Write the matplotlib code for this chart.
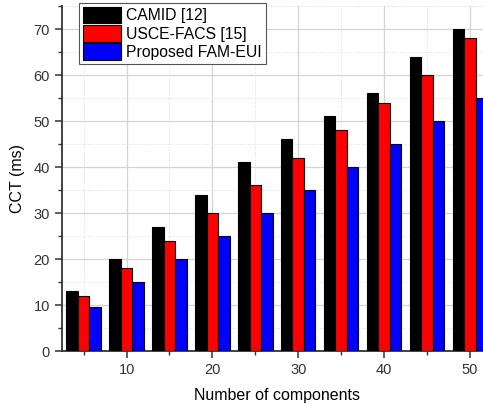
import matplotlib
matplotlib.use("Agg")
import matplotlib.pyplot as plt
from matplotlib.ticker import MultipleLocator
import numpy as np

plt.rcParams['font.family'] = ['Liberation Sans', 'DejaVu Sans']

components = [5, 10, 15, 20, 25, 30, 35, 40, 45, 50]
camid = [13, 20, 27, 34, 41, 46, 51, 56, 64, 70]
usce_facs = [12, 18, 24, 30, 36, 42, 48, 54, 60, 68]
fam_eui = [9.5, 15, 20, 25, 30, 35, 40, 45, 50, 55]

names = ['CAMID [12]', 'USCE-FACS [15]', 'Proposed FAM-EUI']
colors = ['#000000', '#ff0000', '#0000ff']

fig = plt.figure(figsize=(4.83, 4.04), dpi=100)
ax = fig.add_axes([0.128, 0.131, 0.889, 0.854])

x = np.array(components, dtype=float)
w = 1.34
for i, (vals, name, c) in enumerate(zip([camid, usce_facs, fam_eui], names, colors)):
    ax.bar(x + (i - 1) * w, vals, width=w, color=c, edgecolor='black',
           linewidth=0.8, label=name, zorder=3)

ax.set_xlim(2.45, 52.5)
ax.set_ylim(0, 75)
ax.xaxis.set_major_locator(MultipleLocator(10))
ax.xaxis.set_minor_locator(MultipleLocator(5))
ax.yaxis.set_major_locator(MultipleLocator(10))
ax.yaxis.set_minor_locator(MultipleLocator(5))

ax.grid(which='major', color='#d4d4d4', linewidth=0.9, zorder=0)
ax.grid(which='minor', color='#dcdcdc', linewidth=0.7, linestyle=':', zorder=0)
ax.set_axisbelow(True)

for s in ['top', 'right']:
    ax.spines[s].set_visible(False)
ax.spines['left'].set_linewidth(1.3)
ax.spines['bottom'].set_linewidth(1.3)
ax.spines['left'].set_color('#333333')
ax.spines['bottom'].set_color('#333333')

ax.tick_params(which='major', direction='out', length=5, width=1.1, labelsize=10.5, colors='#333333')
ax.tick_params(which='minor', direction='out', length=3, width=1.0, colors='#333333')

ax.set_xlabel('Number of components', fontsize=11.5, labelpad=8)
ax.set_ylabel('CCT (ms)', fontsize=11.5, labelpad=6)

leg = ax.legend(loc='upper left', bbox_to_anchor=(0.04, 1.01), fontsize=11.3,
                fancybox=False, edgecolor='#555555', framealpha=1,
                handlelength=2.4, handleheight=1.25, handletextpad=0.35,
                labelspacing=0.12, borderpad=0.25, borderaxespad=0.0)
leg.get_frame().set_linewidth(0.8)

fig.savefig('out.png', dpi=100)
